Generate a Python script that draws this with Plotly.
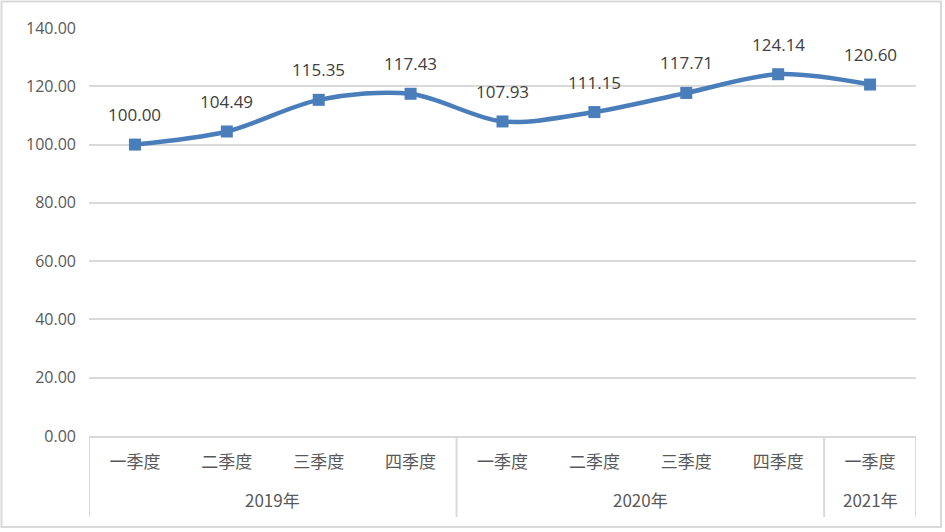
import plotly.graph_objects as go

# Data
years = ['2019年'] * 4 + ['2020年'] * 4 + ['2021年']
quarters = ['一季度', '二季度', '三季度', '四季度',
            '一季度', '二季度', '三季度', '四季度',
            '一季度']
values = [100.00, 104.49, 115.35, 117.43, 107.93, 111.15, 117.71, 124.14, 120.60]
y_ticks = [0, 20, 40, 60, 80, 100, 120, 140]

W, H = 945, 532
ML, MR, MT, MB = 89, 29, 28, 96
BLUE = '#4A7EBB'
GRID = '#D9D9D9'
TEXT = '#595959'
CJK = 'Noto Sans CJK SC, sans-serif'
NUM = 'Open Sans, Calibri, sans-serif'

pw = W - ML - MR
ph = H - MT - MB
idx = list(range(len(values)))

fig = go.Figure()

fig.add_trace(go.Scatter(
    x=idx,
    y=values,
    mode='lines+markers',
    line=dict(color=BLUE, width=4.5, shape='spline', smoothing=0.9),
    marker=dict(symbol='square', size=12, color=BLUE),
    showlegend=False,
    customdata=[f'{y} {q}' for y, q in zip(years, quarters)],
    hovertemplate='%{customdata}: %{y:.2f}<extra></extra>',
))

# value labels above the points
for i, v in enumerate(values):
    fig.add_annotation(
        x=i, y=v, text=f'{v:.2f}', showarrow=False,
        yshift=30, font=dict(family=NUM, size=17, color='#404040'),
    )

# year groups: label below the quarters, dividers at the group edges
groups = []
for i, y in enumerate(years):
    if groups and groups[-1][0] == y:
        groups[-1][2] = i
    else:
        groups.append([y, i, i])

div_bottom = -81 / ph
edges = [groups[0][1] - 0.5] + [g[2] + 0.5 for g in groups]
for e in edges:
    fig.add_shape(type='line', xref='x', yref='paper', x0=e, x1=e, y0=0, y1=div_bottom,
                  line=dict(color=GRID, width=2))
for name, a, b in groups:
    fig.add_annotation(
        x=(a + b) / 2, y=0, xref='x', yref='paper', text=name, showarrow=False,
        yanchor='middle', yshift=-63, font=dict(family=CJK, size=17, color=TEXT),
    )

# light border round the whole chart
fig.add_shape(
    type='rect', xref='paper', yref='paper',
    x0=(1.5 - ML) / pw, x1=(W - 4 - ML) / pw,
    y0=-(H - 5 - MT - ph) / ph, y1=1 + (MT - 1.5) / ph,
    line=dict(color=GRID, width=2), fillcolor='rgba(0,0,0,0)', layer='above',
)

fig.update_layout(
    width=W, height=H,
    margin=dict(l=ML, r=MR, t=MT, b=MB, autoexpand=False),
    paper_bgcolor='white',
    plot_bgcolor='white',
    font=dict(family=CJK, size=16, color=TEXT),
    xaxis=dict(
        range=[-0.5, len(values) - 0.5],
        tickvals=idx,
        ticktext=quarters,
        automargin=False,
        showgrid=False,
        showline=True, linecolor=GRID, linewidth=2,
        tickfont=dict(family=CJK, size=17, color=TEXT),
        ticks='',
        ticklabelstandoff=10,
        zeroline=False,
    ),
    yaxis=dict(
        range=[0, 140],
        automargin=False,
        tickvals=y_ticks,
        tickformat='.2f',
        showgrid=True, gridcolor=GRID, gridwidth=1.5,
        zeroline=False,
        showline=False,
        tickfont=dict(family=NUM, size=16, color=TEXT),
        ticklabelstandoff=12,
    ),
)

fig.write_html('out.html', config={'displayModeBar': False},
               post_script="document.body.style.margin='0';")
